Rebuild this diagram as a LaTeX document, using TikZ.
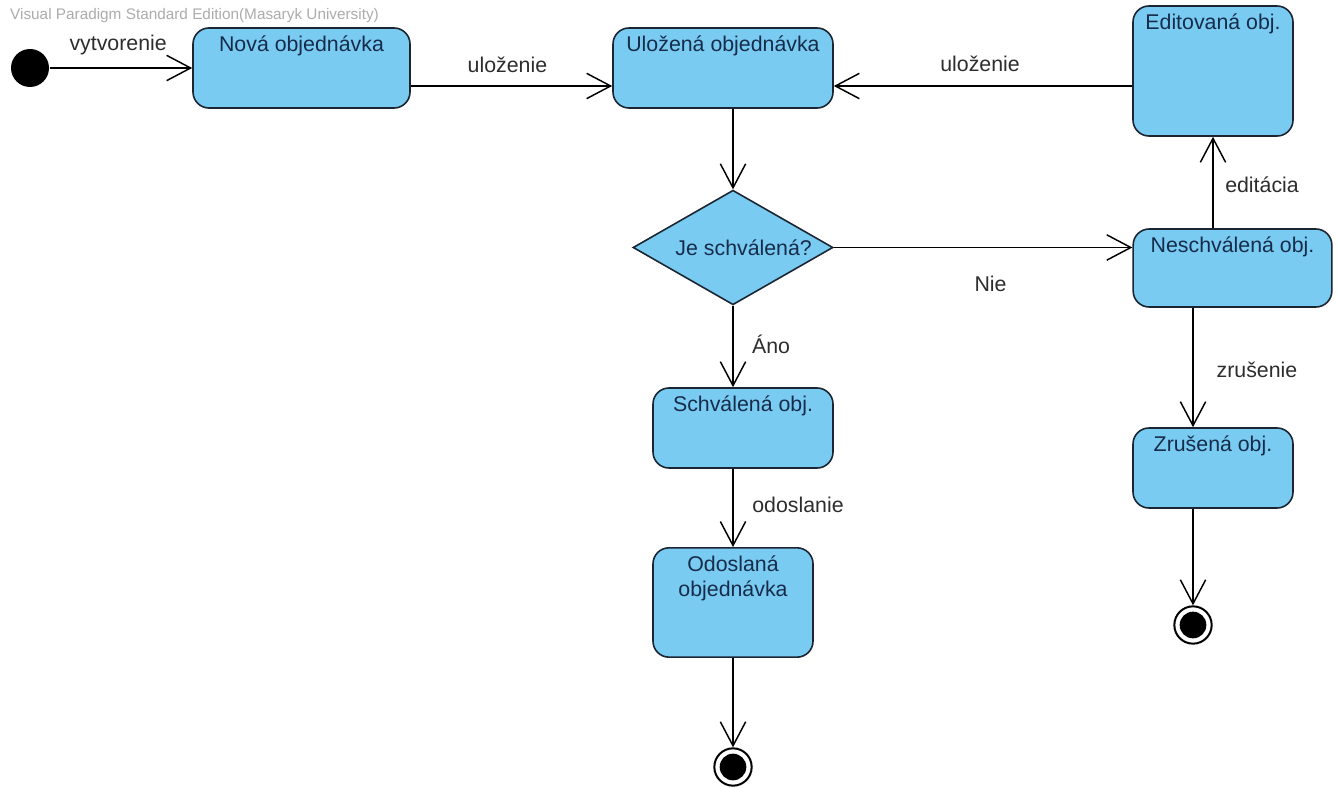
\documentclass[tikz,border=0pt]{standalone}
\usepackage{fontspec}
\setmainfont{Liberation Sans}
\usetikzlibrary{arrows.meta, shapes.geometric}

\definecolor{statefill}{RGB}{122,203,242}
\definecolor{stateline}{RGB}{28,38,50}
\definecolor{statetext}{RGB}{22,44,74}
\definecolor{edgetext}{RGB}{45,45,45}

\begin{document}
\begin{tikzpicture}[x = 0.75pt, y = -0.75pt, % pixel grid, y runs downwards
                > = {Straight Barb[length=18pt, width=19pt]}, % open arrow head
                line width = 1.1pt % line style
            ]

            \tikzstyle{every node}=[font = \fontsize{16}{19}\selectfont]
            \tikzstyle{state}=[draw = stateline, fill = statefill, rectangle,
            rounded corners = 12pt, line width = 1.2pt, inner sep = 0pt]
            \tikzstyle{title}=[text = statetext, anchor = north, align = center,
            inner sep = 0pt, yshift = -6pt]
            \tikzstyle{choice}=[draw = stateline, fill = statefill, diamond,
            minimum width = 150pt, minimum height = 86pt, inner sep = 0pt,
            line width = 1.2pt]
            \tikzstyle{edgelabel}=[text = edgetext, anchor = center, inner sep = 0pt]
            \tikzstyle{initial}=[fill = black, circle, minimum size = 28.5pt,
            inner sep = 0pt]
            \tikzstyle{final}=[draw = black, circle, minimum size = 28pt,
            line width = 1.5pt, inner sep = 0pt, path picture = {\fill[black]
            (path picture bounding box.center) circle (10pt);}]

            \path[use as bounding box, fill = white] (0,0) rectangle (1338,788);

            \node[text = gray!65, anchor = west, font = \fontsize{11.5}{13}\selectfont]
            (mark) at (5,16) {Visual Paradigm Standard Edition(Masaryk University)};

            \node[initial] (init) at (30,68) {};
            \node[state, minimum width = 162.75pt, minimum height = 60pt,
            label = {[title]north:Nová objednávka}] (nova) at (301.5,68) {};
            \node[state, minimum width = 165pt, minimum height = 60pt,
            label = {[title]north:Uložená objednávka}] (ulozena) at (723,68) {};
            \node[state, minimum width = 120pt, minimum height = 97.5pt,
            label = {[title]north:Editovaná obj.}] (edit) at (1213,71) {};
            \node[choice, label = {[text = statetext, xshift = 8pt]center:Je schválená?}]
            (dec) at (733,247.5) {};
            \node[state, minimum width = 149pt, minimum height = 58.5pt,
            label = {[title]north:Neschválená obj.}] (nesch) at (1232.5,268) {};
            \node[state, minimum width = 120pt, minimum height = 60pt,
            label = {[title]north:Zrušená obj.}] (zrus) at (1213,468) {};
            \node[state, minimum width = 135pt, minimum height = 60pt,
            label = {[title]north:Schválená obj.}] (schv) at (743,428) {};
            \node[state, minimum width = 120pt, minimum height = 82pt,
            label = {[title]north:{Odoslaná\\objednávka}}] (odos) at (733,602.5) {};
            \node[final] (end1) at (733,767) {};
            \node[final] (end2) at (1193,625) {};

            \coordinate (row) at (0,86);
            \coordinate (col) at (1193,0);

            \path[->] (init) edge node[edgelabel, pos = 0.48, yshift = 17pt]
            {vytvorenie} (nova);
            \path[->] (nova.east |- row) edge node[edgelabel, pos = 0.48,
            yshift = 15.75pt] {uloženie} (ulozena.west |- row);
            \path[->] (edit.west |- row) edge node[edgelabel, pos = 0.51,
            yshift = 16.5pt] {uloženie} (ulozena.east |- row);
            \path[->] (ulozena.south -| dec.north) edge (dec.north);
            \path[->] (dec.east) edge node[edgelabel, pos = 0.525, yshift = -27pt]
            {Nie} (dec.east -| nesch.west);
            \path[->] (nesch.north -| edit.south) edge node[edgelabel, pos = 0.48,
            xshift = 36.75pt] {editácia} (edit.south);
            \path[->] (nesch.south -| col) edge node[edgelabel, pos = 0.52,
            xshift = 48pt] {zrušenie} (zrus.north -| col);
            \path[->] (zrus.south -| col) edge (end2);
            \path[->] (dec.south) edge node[edgelabel, pos = 0.48, xshift = 28.5pt]
            {Áno} (dec.south |- schv.north);
            \path[->] (schv.south -| odos.north) edge node[edgelabel, pos = 0.46,
            xshift = 48.75pt] {odoslanie} (odos.north);
            \path[->] (odos) edge (end1);
        \end{tikzpicture}
\end{document}
